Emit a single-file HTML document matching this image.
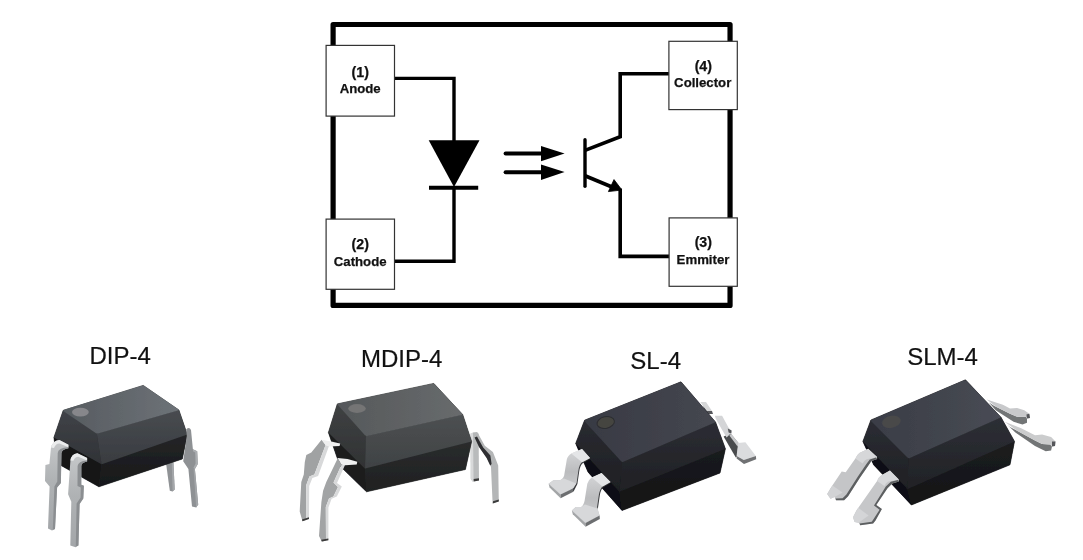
<!DOCTYPE html>
<html lang="en">
<head>
<meta charset="utf-8">
<title>Optocoupler schematic and packages</title>
<style>
html,body{margin:0;padding:0;background:#fff;}
body{width:1083px;height:560px;overflow:hidden;}
svg{display:block;will-change:transform;}
.pin{font-family:"Liberation Sans",Arial,sans-serif;font-weight:bold;font-size:13.2px;fill:#111;text-anchor:middle;stroke:#111;stroke-width:.25px;}
.num{font-size:14.2px;}
.lbl{font-family:"Liberation Sans",Arial,sans-serif;font-size:24px;fill:#111;text-anchor:middle;stroke:#111;stroke-width:.2px;}
</style>
</head>
<body>
<svg width="1083" height="560" viewBox="0 0 1083 560">
<rect width="1083" height="560" fill="#fff"/>
<defs>
  <linearGradient id="metalV" x1="0" y1="0" x2="1" y2="0">
    <stop offset="0" stop-color="#8e9194"/><stop offset=".35" stop-color="#b4b7b9"/><stop offset="1" stop-color="#a0a3a6"/>
  </linearGradient>
  <linearGradient id="d1top" x1="0" y1="0" x2="1" y2="0">
    <stop offset="0" stop-color="#565b60"/><stop offset="1" stop-color="#6d7277"/>
  </linearGradient>
  <linearGradient id="d1front" x1="0" y1="0" x2="0" y2="1">
    <stop offset="0" stop-color="#484b50"/><stop offset="1" stop-color="#393c40"/>
  </linearGradient>
  <linearGradient id="d1low" x1="0" y1="0" x2="0" y2="1">
    <stop offset="0" stop-color="#242527"/><stop offset="1" stop-color="#17181a"/>
  </linearGradient>
  <linearGradient id="d1left" x1="0" y1="0" x2="0" y2="1">
    <stop offset="0" stop-color="#404348"/><stop offset="1" stop-color="#303236"/>
  </linearGradient>
  <linearGradient id="d2top" x1="0" y1="0" x2="1" y2="0">
    <stop offset="0" stop-color="#55585a"/><stop offset="1" stop-color="#686b6d"/>
  </linearGradient>
  <linearGradient id="d2front" x1="0" y1="0" x2="0" y2="1">
    <stop offset="0" stop-color="#4d5052"/><stop offset="1" stop-color="#3f4244"/>
  </linearGradient>
  <linearGradient id="d2left" x1="0" y1="0" x2="0" y2="1">
    <stop offset="0" stop-color="#3f4143"/><stop offset="1" stop-color="#303233"/>
  </linearGradient>
  <linearGradient id="d2low" x1="0" y1="0" x2="0" y2="1">
    <stop offset="0" stop-color="#2a2c2d"/><stop offset="1" stop-color="#1f2021"/>
  </linearGradient>
  <linearGradient id="d3top" x1="0" y1="0" x2="1" y2="0">
    <stop offset="0" stop-color="#383a43"/><stop offset="1" stop-color="#454750"/>
  </linearGradient>
  <linearGradient id="d3front" x1="0" y1="0" x2="0" y2="1">
    <stop offset="0" stop-color="#2c2d33"/><stop offset="1" stop-color="#1f2024"/>
  </linearGradient>
  <linearGradient id="d3left" x1="0" y1="0" x2="0" y2="1">
    <stop offset="0" stop-color="#2a2b31"/><stop offset="1" stop-color="#1e1f23"/>
  </linearGradient>
  <linearGradient id="d3low" x1="0" y1="0" x2="0" y2="1">
    <stop offset="0" stop-color="#1a1b1e"/><stop offset="1" stop-color="#121315"/>
  </linearGradient>
  <linearGradient id="d4top" x1="0" y1="0" x2="1" y2="0">
    <stop offset="0" stop-color="#3a3d46"/><stop offset="1" stop-color="#484b54"/>
  </linearGradient>
  <linearGradient id="d4front" x1="0" y1="0" x2="0" y2="1">
    <stop offset="0" stop-color="#2d2f35"/><stop offset="1" stop-color="#212226"/>
  </linearGradient>
  <linearGradient id="d4left" x1="0" y1="0" x2="0" y2="1">
    <stop offset="0" stop-color="#2b2d33"/><stop offset="1" stop-color="#1f2024"/>
  </linearGradient>
  <linearGradient id="d4low" x1="0" y1="0" x2="0" y2="1">
    <stop offset="0" stop-color="#1c1d20"/><stop offset="1" stop-color="#131416"/>
  </linearGradient>
  <linearGradient id="slpin" x1="0" y1="0" x2="0" y2="1">
    <stop offset="0" stop-color="#d6d7d9"/><stop offset=".5" stop-color="#bbbcbe"/><stop offset="1" stop-color="#cfd0d2"/>
  </linearGradient>
  <linearGradient id="dipin" x1="0" y1="0" x2="0" y2="1">
    <stop offset="0" stop-color="#c6c8ca"/><stop offset=".45" stop-color="#afb2b4"/><stop offset="1" stop-color="#a3a6a9"/>
  </linearGradient>
  <filter id="soft" x="-5%" y="-5%" width="110%" height="110%"><feGaussianBlur stdDeviation="0.35"/></filter>
</defs>

<!-- ================= SCHEMATIC ================= -->
<g id="schematic">
  <rect x="333.1" y="24.5" width="396.95" height="280.95" fill="none" stroke="#000" stroke-width="5.2" stroke-linejoin="round"/>
  <!-- wires -->
  <g fill="none" stroke="#000" stroke-width="3.4" stroke-linejoin="miter">
    <polyline points="394,78.4 454,78.4 454,142"/>
    <polyline points="394,261.3 454,261.3 454,188"/>
    <polyline points="670,73.8 620.2,73.8 620.2,136.8 585,150.4" stroke-width="3.6"/>
    <polyline points="670,256.4 620.2,256.4 620.2,188.6" stroke-width="3.6"/>
    <line x1="585" y1="175.8" x2="612" y2="187" stroke-width="3.8"/>
    <line x1="585" y1="139.8" x2="585" y2="186.2" stroke-linecap="round"/>
    <line x1="429" y1="187.7" x2="478.2" y2="187.7" stroke-width="4"/>
    <line x1="505.6" y1="153.6" x2="543" y2="153.6" stroke-width="4" stroke-linecap="round"/>
    <line x1="505.6" y1="172.2" x2="543" y2="172.2" stroke-width="4" stroke-linecap="round"/>
  </g>
  <!-- diode triangle -->
  <polygon points="428.7,140.2 479.5,140.2 454,187" fill="#000"/>
  <!-- light arrows -->
  <polygon points="541,146 564.6,153.5 541,161.2" fill="#000"/>
  <polygon points="541,164.4 564.6,172 541,180.1" fill="#000"/>
  <!-- emitter arrow -->
  <polygon points="621.9,190 608.4,191.6 614,179.6" fill="#000" stroke="#000" stroke-width=".8" stroke-linejoin="round"/>
  <!-- pin boxes -->
  <g fill="#fff" stroke="#333" stroke-width="1.2">
    <rect x="326.1" y="45.4" width="68.4" height="70.7"/>
    <rect x="326.1" y="219.1" width="68.4" height="70.2"/>
    <rect x="668.9" y="41.3" width="68.4" height="68.3"/>
    <rect x="669.1" y="217.9" width="68.2" height="68.4"/>
  </g>
  <text class="pin num" x="360.2" y="76.8">(1)</text>
  <text class="pin" x="360.2" y="92.6">Anode</text>
  <text class="pin num" x="360.2" y="249.4">(2)</text>
  <text class="pin" x="360.2" y="265.5">Cathode</text>
  <text class="pin num" x="703.3" y="71.4">(4)</text>
  <text class="pin" x="702.7" y="86.5">Collector</text>
  <text class="pin num" x="703.3" y="247.4">(3)</text>
  <text class="pin" x="703" y="263.5">Emmiter</text>
</g>

<!-- ================= LABELS ================= -->
<text class="lbl" x="120.1" y="363.9">DIP-4</text>
<text class="lbl" x="401.7" y="366.9">MDIP-4</text>
<text class="lbl" x="655.7" y="369.4">SL-4</text>
<text class="lbl" x="942.6" y="365.1">SLM-4</text>

<!-- ================= DIP-4 ================= -->
<g id="dip4" filter="url(#soft)">
  <!-- back-right pin (behind body) -->
  <polygon points="165.6,460 173.2,458 174.7,489.6 172.6,491.4 169.8,490.8" fill="#8f9295"/>
  <polygon points="171.6,458.5 173.2,458 174.7,489.6 172.6,491.4" fill="#a4a7aa"/>
  <!-- body underlay -->
  <polygon points="63.2,410.4 143.2,385.4 178.9,410 187.3,434.5 182.3,459 98.9,486.8 57.5,463.5 53.9,437.5" fill="#232527" stroke="#232527" stroke-width=".6" stroke-linejoin="round"/>
  <!-- lower body -->
  <polygon points="53.9,437.5 101.6,464.3 98.9,486.8 57.5,463.5" fill="#161719"/>
  <polygon points="101.6,464.3 187.3,434.5 182.3,459 98.9,486.8" fill="url(#d1low)"/>
  <!-- upper body -->
  <polygon points="63.2,410.4 96.8,433.6 101.6,464.3 53.9,437.5" fill="url(#d1left)"/>
  <polygon points="96.8,433.6 178.9,410 187.3,434.5 101.6,464.3" fill="url(#d1front)"/>
  <path d="M64.6,409.6 L141.8,385.7 Q143.2,385.3 144.4,386.1 L178.2,409.3 Q179.4,410.2 178,410.6 L98,433.4 Q96.8,433.8 95.6,433 L63.6,411.2 Q62.6,410.3 64.6,409.6Z" fill="url(#d1top)"/>
  <ellipse cx="80.4" cy="412.1" rx="8.4" ry="4.3" fill="#87878b"/>
  <!-- pin 4 (front-right) -->
  <path d="M186.2,429.5 Q189.2,426.3 191,430 L192.9,449.3 L197.2,451.3 L197.8,464.1 L194.9,469 L198.2,504.4 L196.2,507.4 L192,506.4 L188.4,469 L183.2,461.3 L186.8,436 Z" fill="#8e9194"/>
  <path d="M192.9,449.3 L197.2,451.3 L197.8,464.1 L194.9,469 L193.4,468 L195.6,463.6 L195.2,452.4 L193,451.2Z" fill="#abaeb1"/>
  <path d="M194.9,469 L198.2,504.4 L196.2,507.4 L193.6,469.5Z" fill="#a2a5a8"/>
  <!-- pin 1 (back-left) -->
  <path d="M68.4,444.8 L59.3,439.9 Q52.6,440.6 51,447.6 L49.4,463.9 L45.4,465 L45,481 L49.6,486.4 L48,528.5 L52,530.6 L55,528.9 L57.1,487.4 L60.9,483.1 L61.4,453 Q61.8,449.4 68.4,448.2Z" fill="url(#dipin)"/>
  <path d="M68.4,444.8 L59.3,439.9 Q52.6,440.6 51,447.6 L54,448 Q55.4,443.6 59.4,443.4 L68.4,447.2Z" fill="#ebeced"/>
  <path d="M68.4,447.2 Q58,447.8 57.7,453 L57.3,481.6 L54.4,486.6 L52.8,529.8 L55,528.9 L57.1,487.4 L60.9,483.1 L61.4,453 Q61.8,449.4 68.4,448.2Z" fill="#8b8e91"/>
  <!-- pin 2 (front-left) -->
  <path d="M87.1,458 L77.4,453.2 Q71.6,453.8 70.4,460.4 L68.1,494.2 L71.3,501.7 L70.3,545.6 L75.6,547.3 L78.4,545.6 L79.6,504 L83.3,498.5 L83.9,485.8 L81.3,484.8 L81.3,466 Q81.6,462.6 87.1,461.6Z" fill="url(#dipin)"/>
  <path d="M87.1,458 L77.4,453.2 Q71.6,453.8 70.4,460.4 L73.4,460.8 Q74.8,456.8 78.4,456.7 L87.1,460.4Z" fill="#ebeced"/>
  <path d="M87.1,460.4 Q78,461 77.6,466 L77.5,486 L80.8,487.6 L80.6,497.6 L76.6,503.4 L75.8,546.6 L78.4,545.6 L79.6,504 L83.3,498.5 L83.9,485.8 L81.3,484.8 L81.3,466 Q81.6,462.6 87.1,461.6Z" fill="#8b8e91"/>
</g>
<!-- ================= MDIP-4 ================= -->
<g id="mdip4" filter="url(#soft)">
  <!-- back-right pin -->
  <polygon points="470.6,433.5 478.6,433.5 479,480.6 472.6,481.6 470.8,479" fill="#b9bbbc"/>
  <polygon points="470.6,433.5 473,433.5 473.6,481.4 472.6,481.6 470.8,479" fill="#d8d9da"/>
  <polygon points="473.6,479 479,478.2 479,480.6 473.8,481.6" fill="#3a3a3a"/>
  <!-- front-right pin -->
  <path d="M472.5,432.6 L477.2,432 L484.8,445.7 L492.9,452 L498.2,465.4 L498.8,501.2 L492.6,503.2 L491,467 L487,458 L479,447 L474.6,438.6Z" fill="#b4b6b7"/>
  <path d="M474.6,437.4 L477,436.4 L483.2,447.6 L490.4,455.6 L491.6,464 L490.2,465.4 L486.6,458 L479,447Z" fill="#2e2f30"/>
  <polygon points="493,501.2 498.8,499.4 498.8,501.4 492.8,503.4" fill="#3a3a3a"/>
  <!-- body underlay -->
  <polygon points="337.3,403.9 433.8,383.4 462.7,414.6 471.6,441.4 465.4,469.5 366.5,491.8 340,466 328.4,432.5" fill="#262829" stroke="#262829" stroke-width=".6" stroke-linejoin="round"/>
  <!-- lower body -->
  <polygon points="328.4,432.5 365,468.6 366.5,491.8 340,466" fill="#1d1e1f"/>
  <polygon points="365,468.6 471.6,441.4 465.4,469.5 366.5,491.8" fill="url(#d2low)"/>
  <!-- upper body -->
  <polygon points="337.3,403.9 365.9,436.1 365,468.6 328.4,432.5" fill="url(#d2left)"/>
  <polygon points="365.9,436.1 462.7,414.6 471.6,441.4 365,468.6" fill="url(#d2front)"/>
  <path d="M338.6,403.4 L432.4,383.7 Q433.8,383.4 434.8,384.4 L462.2,413.8 Q463,414.8 461.6,415.1 L367.2,436 Q365.9,436.3 364.9,435.3 L337.6,404.8 Q336.9,403.8 338.6,403.4Z" fill="url(#d2top)"/>
  <ellipse cx="357" cy="408.5" rx="8.8" ry="4.4" fill="#747475"/>
  <!-- pin 1 (back-left) -->
  <polygon points="321.6,439.8 311.3,452.6 306.3,455.1 304.8,462 303.8,474.5 301.3,482 299.7,511.5 302.5,521.2 306.4,519.8 306.2,485.2 309.4,476.6 314.4,474.5 325.6,445.1" fill="#a0a2a3"/>
  <polygon points="325.6,445.1 329,446 318.1,476 312.4,478 309.2,486 309,519 306.4,519.8 306.2,485.2 309.4,476.6 314.4,474.5" fill="#d8d9da"/>
  <polygon points="321.6,439.8 331,441.4 340.2,443.4 339.6,446 329,446.4 325.6,445.1" fill="#efefef"/>
  <polygon points="302.5,521.2 309,519 309,517.2 302,519.4" fill="#3a3a3a"/>
  <!-- pin 2 (front-left) -->
  <polygon points="337.5,458 336.9,460.1 326.3,482 323.1,490.8 321.4,502 319,536 321.8,541.5 326,540.7 325.8,507 329,498.4 333.4,496.6 338,487 333.5,482.6 341.5,464.8" fill="#a2a4a5"/>
  <polygon points="341.5,464.8 345,465.1 337,483 341.8,486.6 336.8,496.6 331.6,498.8 328.4,507.4 328.4,540.2 326,540.7 325.8,507 329,498.4 333.4,496.6 338,487 333.5,482.6" fill="#d8d9da"/>
  <polygon points="337.5,458 347.5,458.9 357.3,461.8 356.7,464.5 345,465.2 341.5,464.8" fill="#efefef"/>
  <polygon points="321.8,541.5 328.4,540.2 328.4,538.4 321.2,539.8" fill="#3a3a3a"/>
</g>
<!-- ================= SL-4 ================= -->
<g id="sl4" filter="url(#soft)">
  <!-- back-right pin -->
  <polygon points="700.4,402 706,402 712,411 706.6,411.6" fill="#d6d7d8"/>
  <polygon points="703,406 706.9,410.9 712,411 713,414 706,414" fill="#55575a"/>
  <!-- front-right pin -->
  <polygon points="723.6,436.4 730.6,433.6 738.4,443 737.2,456 735.8,457.4" fill="#4a4c4e"/>
  <polygon points="729.4,435.4 731,433.8 738.6,443 737.6,446.6" fill="#c8c9cb"/>
  <polygon points="714.9,415.7 722.1,415.7 728.6,427.8 731.2,430.4 730.6,433.6 726.6,437.4 721.3,428.6 715.7,418.4" fill="#d4d5d7"/>
  <polygon points="727.8,428.6 731.6,430.6 731.4,433.4 728.6,432.6" fill="#55575a"/>
  <polygon points="738.2,443 745.4,442.2 755.9,455.9 743.8,459.9 736.6,455.9" fill="#dbdcde"/>
  <polygon points="743.8,459.9 755.9,455.9 756.2,459.2 744,464 736.6,458.6 736.6,455.9" fill="#6f7173"/>
  <!-- pin 1 upper part (behind body) drawn after body; body underlay -->
  <polygon points="584.6,420.2 681,381.8 715.5,422 725.4,448.8 720,473 622,510.5 588,472 575.7,443.4" fill="#17181b" stroke="#17181b" stroke-width=".6" stroke-linejoin="round"/>
  <!-- lower body -->
  <polygon points="575.7,443.4 619.5,491.8 622,510.5 588,472" fill="#0f1012"/>
  <polygon points="619.5,491.8 725.4,448.8 720,473 622,510.5" fill="url(#d3low)"/>
  <!-- upper body -->
  <polygon points="584.6,420.2 622.1,462.1 619.5,491.8 575.7,443.4" fill="url(#d3left)"/>
  <polygon points="622.1,462.1 715.5,422 725.4,448.8 619.5,491.8" fill="url(#d3front)"/>
  <path d="M585.8,419.6 L679.6,382.3 Q681,381.8 682,382.9 L715,421.2 Q715.8,422.2 714.4,422.7 L623.4,461.8 Q622.1,462.3 621.1,461.3 L584.8,421.4 Q584.2,420.3 585.8,419.6Z" fill="url(#d3top)"/>
  <ellipse cx="605.7" cy="422.5" rx="8.8" ry="5.8" fill="#454541" stroke="#2c2d30" stroke-width="1" transform="rotate(-12 605.7 422.5)"/>
  <!-- pin 1 (back-left) -->
  <path d="M590.5,458.4 L582.4,463.6 Q580.2,465.6 579.2,471.4 L577.4,483.9 L573.6,491.6 L571,489 L574.4,482.3 L576.2,469.8 Q577.2,463.8 580,461.3 L587.6,457Z" fill="#3b3c3f"/>
  <path d="M590,457.9 L582,448.9 L571.3,453.4 Q567.6,455.6 566.8,459.6 L564.1,475.7 Q562.6,479.6 559.6,480.2 L553.4,480.2 L548.6,483.8 L560.5,494.6 L573,488.4 L576.6,482.9 L578.4,470.4 Q579.4,464.4 582,462.3Z" fill="url(#slpin)"/>
  <polygon points="582,448.9 590,457.9 582,462.3 571.3,453.4" fill="#e4e5e7"/>
  <polygon points="553.4,480.2 548.6,483.8 560.5,494.6 573,488.4 576.2,483.6 564,478.4 559.6,480.2" fill="#d7d8da"/>
  <polygon points="548.6,483.8 549.6,487.4 560.6,498.2 560.5,494.6" fill="#a3a5a7"/>
  <polygon points="560.5,494.6 573,488.4 573.4,491.8 560.6,498.2" fill="#6c6e70"/>
  <!-- pin 2 (front-left) -->
  <path d="M611,482.5 L603,487.6 Q600.8,489.6 599.8,495.4 L598,507.8 L594.4,515.4 L591.6,513 L594.9,506.4 L596.7,493.9 Q597.8,488 600.5,485.4 L608.2,481.1Z" fill="#3b3c3f"/>
  <path d="M610.5,482 L601.6,473 L591.8,477.5 Q588.2,479.8 587.3,483.8 L584.6,500.7 Q583.4,505.8 581.1,507 L575.7,507 L571.8,510.5 L585.5,523 L599.6,515.4 L597.1,507 L598.9,494.5 Q600,488.6 602.5,486.4Z" fill="url(#slpin)"/>
  <polygon points="601.6,473 610.5,482 602.5,486.4 591.8,477.5" fill="#e4e5e7"/>
  <polygon points="575.7,507 571.8,510.5 585.5,523 599.6,515.4 597.4,508.4 585,504.6 581.1,507" fill="#d7d8da"/>
  <polygon points="571.8,510.5 572.8,514.2 585.6,526.8 585.5,523" fill="#a3a5a7"/>
  <polygon points="585.5,523 599.6,515.4 599.8,519 585.6,526.8" fill="#6c6e70"/>
</g>
<!-- ================= SLM-4 ================= -->
<g id="slm4" filter="url(#soft)">
  <!-- back-right pin -->
  <polygon points="993.9,405.7 1010,413.8 1017.1,416.8 1025.7,416.8 1027,418.6 1027,422.7 1022.5,424.5 1013.6,421.8 995.7,410.2 989,402.5" fill="#727476"/>
  <polygon points="986.8,399.5 1002.9,404.8 1010,408.4 1017.1,407.9 1024.3,410.2 1029.3,413.8 1030,417.9 1027,418.6 1025.7,416.8 1017.1,416.8 1010,413.8 995.7,406.6" fill="#c8c9cb"/>
  <polygon points="1026.4,414.6 1029.3,413.8 1030,417.9 1027,418.6" fill="#55575a"/>
  <!-- front-right pin -->
  <polygon points="1010,427 1017.1,430.7 1035,440.5 1042.1,444.1 1050.2,444.6 1052,446.4 1051.1,450.4 1045.7,451.3 1035,445.9 1015.4,432.5 1007,424.5" fill="#727476"/>
  <polygon points="1004.6,421.8 1020.7,428 1035,435.2 1042.1,434.6 1051.1,437 1055.5,441.4 1055,445.9 1052,446.4 1050.2,444.6 1042.1,444.1 1035,440.5 1017.1,430.7" fill="#cbcccd"/>
  <polygon points="1052,441.4 1055.5,441.4 1055,445.9 1052,446.4" fill="#55575a"/>
  <!-- body underlay -->
  <polygon points="870.9,420 965.5,379.8 1001,417.3 1014.5,441.4 1010,464.8 911.4,505 873.6,464.8 862.9,441.4" fill="#191a1d" stroke="#191a1d" stroke-width=".6" stroke-linejoin="round"/>
  <!-- lower body -->
  <polygon points="862.9,441.4 907.5,488.9 911.4,505 873.6,464.8" fill="#0f1012"/>
  <polygon points="907.5,488.9 1014.5,441.4 1010,464.8 911.4,505" fill="url(#d4low)"/>
  <!-- upper body -->
  <polygon points="870.9,420 908.4,458.4 907.5,488.9 862.9,441.4" fill="url(#d4left)"/>
  <polygon points="908.4,458.4 1001,417.3 1014.5,441.4 907.5,488.9" fill="url(#d4front)"/>
  <path d="M872.2,419.4 L964.1,380.3 Q965.5,379.8 966.5,380.9 L1000.4,416.5 Q1001.2,417.5 999.8,418.1 L909.8,458 Q908.4,458.6 907.4,457.6 L871.2,421.2 Q870.6,420.1 872.2,419.4Z" fill="url(#d4top)"/>
  <ellipse cx="891.4" cy="421.8" rx="9.6" ry="6.1" fill="#48484a" transform="rotate(-12 891.4 421.8)"/>
  <!-- pin 1 (back-left) -->
  <path d="M877.1,456.9 L868.2,448.8 L859.4,452.9 Q856.6,455 855.4,458.5 L845.7,472.2 L841.7,471.4 L830.5,488.2 L827.2,493.9 L830.5,498.7 L834.5,497.1 L836.1,500.3 L844.1,500.3 L848.1,496.3 L859.4,478.6 L868.2,465.7 L871.4,460.9 L877.1,458.9Z" fill="#c4c5c7"/>
  <path d="M877.1,456.9 L868.2,448.8 L859.4,452.9 Q856.6,455 855.4,458.5 L862.6,463.6 Q864,460.4 866.6,459.2 L875.6,457.6Z" fill="#d6d7d9"/>
  <path d="M877.1,458.9 L871.4,460.9 L868.2,465.7 L859.4,478.6 L848.1,496.3 L844.1,500.3 L836.1,500.3 L835.4,498.6 L842.6,498.2 L846.4,494.6 L857.6,477 L866.4,464 L869.8,459.4 L876,457.4Z" fill="#5c5e60"/>
  <polygon points="832.4,485.4 827.2,493.9 830.5,498.7 834.5,497.1 842.6,492.4" fill="#d2d3d5"/>
  <!-- pin 2 (front-left) -->
  <path d="M898.8,479.4 L889.9,470.5 L881.1,475.4 Q878.2,477.4 877.1,481 L856.2,510.7 L853,517.2 L854.6,522 L858.6,522.8 L860.2,525.2 L873.1,523.6 L875.5,520.4 L881.9,509.1 L876.3,505.1 L887.5,488.2 L892.3,483.4 L898.8,481.4Z" fill="#c6c7c9"/>
  <path d="M898.8,479.4 L889.9,470.5 L881.1,475.4 Q878.2,477.4 877.1,481 L884.4,486 Q885.8,482.8 888.4,481.6 L897.4,480.1Z" fill="#d8d9db"/>
  <path d="M898.8,481.4 L892.3,483.4 L887.5,488.2 L876.3,505.1 L881.9,509.1 L875.5,520.4 L873.1,523.6 L860.2,525.2 L859.6,523.6 L871.8,521.8 L873.8,518.8 L879.6,509.8 L874,505.6 L885.8,486.6 L890.8,481.8 L897.8,480Z" fill="#5c5e60"/>
  <polygon points="858.2,507.8 853,517.2 854.6,522 858.6,522.8 868.6,515.4" fill="#d4d5d7"/>
</g>
<!-- PACKAGES -->
</svg>
</body>
</html>
